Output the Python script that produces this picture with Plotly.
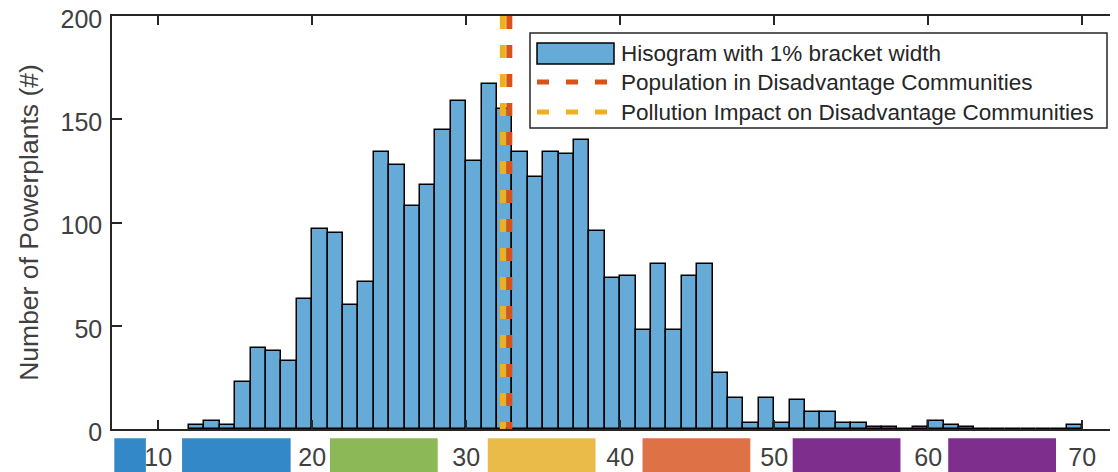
import plotly.graph_objects as go

# ---------------- data ----------------
bin_start = list(range(12, 70))           # 1% wide brackets
counts = [2, 4, 2, 23, 39, 38, 33, 63, 97, 95,
          60, 71, 134, 128, 108, 118, 145, 159, 130, 167,
          155, 134, 122, 134, 133, 140, 96, 73, 74, 48,
          80, 48, 74, 80, 27, 15, 3, 15, 3, 14,
          8, 8, 3, 3, 1, 1, 0, 1, 4, 2,
          1, 0, 0, 0, 0, 0, 0, 2]

line_names = ["Population in Disadvantage Communities",
              "Pollution Impact on Disadvantage Communities"]
line_values = [32.8, 32.38]
line_colors = ["#D95319", "#EDB120"]

hist_name = "Hisogram with 1% bracket width"

x_ticks = [10, 20, 30, 40, 50, 60, 70]
y_ticks = [0, 50, 100, 150, 200]

band_start = [7.15, 11.55, 21.15, 31.4, 41.45, 51.2, 61.3]
band_end = [9.2, 18.6, 28.15, 38.4, 48.45, 58.2, 68.3]
band_colors = ["#3388C7", "#3388C7", "#8DB857", "#EBBB4A", "#DE7146", "#7E2F8E", "#7E2F8E"]

# ---------------- layout helpers ----------------
OFF = 8                      # default page body margin
W, H = 1118 - OFF, 472 - OFF
ML, MR, MT, MB = 112 - OFF, 0, 16 - OFF, 43
PW, PH = W - ML - MR, H - MT - MB


def px_x(p):
    return (p - OFF - ML) / PW


def px_y(p):
    return (H - MB - (p - OFF)) / PH


FONT = "Liberation Sans, Arial, sans-serif"
TXT = "#262626"
BAR_FILL = "#66AAD7"

fig = go.Figure()

fig.add_trace(go.Bar(
    x=bin_start, y=counts, width=1, offset=0,
    marker=dict(color=BAR_FILL, line=dict(color="#000000", width=1.5)),
    name=hist_name, showlegend=False,
))

for name, val, col in zip(line_names, line_values, line_colors):
    fig.add_trace(go.Scatter(
        x=[val, val], y=[200, 0], mode="lines",
        line=dict(color=col, width=6, dash="13px,16px"),
        name=name, showlegend=False,
    ))

shapes = []
# colour bands under the x axis
for s, e, c in zip(band_start, band_end, band_colors):
    shapes.append(dict(type="rect", xref="x", yref="paper",
                       x0=s, x1=e, y0=px_y(475), y1=px_y(438.3),
                       fillcolor=c, line=dict(width=0), layer="below"))

# custom legend
shapes.append(dict(type="rect", xref="paper", yref="paper",
                   x0=px_x(530), x1=px_x(1107), y0=px_y(128), y1=px_y(33),
                   fillcolor="white", line=dict(color=TXT, width=1.5), layer="above"))
shapes.append(dict(type="rect", xref="paper", yref="paper",
                   x0=px_x(537), x1=px_x(614), y0=px_y(64), y1=px_y(43),
                   fillcolor=BAR_FILL, line=dict(color="#000000", width=1.5), layer="above"))
for yy, col in zip([82, 112], line_colors):
    shapes.append(dict(type="line", xref="paper", yref="paper",
                       x0=px_x(537), x1=px_x(614), y0=px_y(yy), y1=px_y(yy),
                       line=dict(color=col, width=5, dash="12px,17px"), layer="above"))

annotations = []
for yy, txt in zip([53, 82, 112], [hist_name] + line_names):
    annotations.append(dict(xref="paper", yref="paper", x=px_x(619), y=px_y(yy),
                            text=txt, showarrow=False, xanchor="left", yanchor="middle",
                            font=dict(family=FONT, size=22.5, color=TXT)))

fig.update_layout(
    width=W, height=H,
    margin=dict(l=ML, r=MR, t=MT, b=MB, pad=0, autoexpand=False),
    paper_bgcolor="white", plot_bgcolor="white",
    shapes=shapes, annotations=annotations,
    bargap=0, showlegend=False,
    font=dict(family=FONT, color="#404040"),
)

fig.update_xaxes(
    range=[7, 7 + PW / 15.4], automargin=False,
    tickvals=x_ticks, ticktext=[str(v) for v in x_ticks],
    ticks="inside", ticklen=9, tickwidth=1.5, tickcolor=TXT,
    showline=True, linecolor=TXT, linewidth=1.5, mirror="ticks",
    showgrid=False, zeroline=False,
    tickfont=dict(family=FONT, size=25, color="#404040"),
    ticklabelstandoff=5, ticklabeloverflow="allow",
)
fig.update_yaxes(
    range=[0, 200], automargin=False,
    tickvals=y_ticks,
    ticks="inside", ticklen=10, tickwidth=1.5, tickcolor=TXT,
    showline=True, linecolor=TXT, linewidth=1.5,
    showgrid=False, zeroline=False,
    tickfont=dict(family=FONT, size=25, color="#404040"),
    ticklabelstandoff=3, ticklabeloverflow="allow", ticklabelshift=3,
    title=dict(text="Number of Powerplants (#)", standoff=14,
               font=dict(family=FONT, size=26.5, color="#404040")),
)

fig.write_html("out.html")
